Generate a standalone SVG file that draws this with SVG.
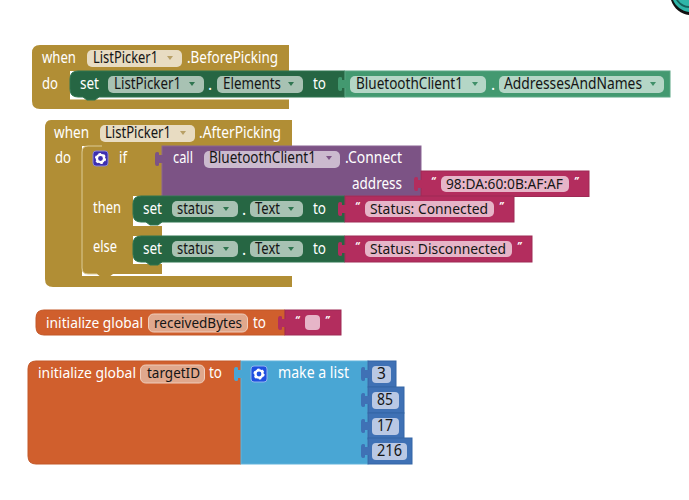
<svg xmlns="http://www.w3.org/2000/svg" width="689" height="500" viewBox="0 0 689 500">
<style>
text{font-family:"Noto Sans","Open Sans","Liberation Sans",sans-serif;font-size:15.5px;fill:#fff}
.f{fill:#151515}
.s{font-size:14px}
.q{font-size:10px;font-weight:700;font-style:italic}
.ev{fill:#b18e35}
.set{fill:#266643;stroke:#2f7550;stroke-width:1}
.get{fill:#439970;stroke:#5aa684;stroke-width:1}
.call{fill:#7c5385;stroke:#8a6493;stroke-width:1}
.str{fill:#b32d5e;stroke:#9e2a55;stroke-width:1}
.var{fill:#d05f2d;stroke:#c25829;stroke-width:1}
.lst{fill:#49a6d4;stroke:#62b3db;stroke-width:1}
.num{fill:#3f71b5;stroke:#3566a6;stroke-width:1}
.fe{fill:#e8dcc2}.fs{fill:#a8c2b3}.fg{fill:#b4d6c6}.fc{fill:#cbbace}.fp{fill:#e6b5c8}
.fo{fill:#e0a88d;stroke:#f0cdbb;stroke-width:1}.fn{fill:#b9c8e4}
.ae{fill:#b8a066}.as{fill:#2f7550}.ag{fill:#3f8f68}.ac{fill:#7c5385}
.edge{fill:none;stroke:#dccb96;stroke-width:1}
</style>
<defs>
<path id="tab" d="M1 3H-3V1Q-3 0-5 0Q-7 0-7 3V11Q-7 14-5 14Q-3 14-3 13V11H1Z"/>
<path id="dd" d="M-3-2H3L0 2Z"/>
<g id="gear">
<circle r="3.6" fill="none" stroke="#fff" stroke-width="2.4"/>
<circle r="4.8" fill="none" stroke="#fff" stroke-width="1.6" stroke-dasharray="2.5 2.5"/>
</g>
</defs>

<!-- corner of the speech mark at the top edge -->
<g id="corner-mark">
<path d="M671 0C674 9 681 14 689 15V0Z" fill="#111"/>
<path d="M673 0C676 7 682 11 689 12V0Z" fill="#2fb5a8"/>
<path d="M678 0C681 4 685 6 689 6V8C684 8 679 5 676 0Z" fill="#15625c"/>
</g>

<g id="before-picking">
<path class="ev" d="M38 45H289V71H70V99.500H289V109H40Q32 109 32 101V53Q32 45 40 45Z"/>
<rect class="fe" x="87" y="50" width="95" height="17" rx="5"/>
<text x="42" y="63" textLength="34" lengthAdjust="spacingAndGlyphs">when</text>
<text class="f" x="93" y="63" textLength="65" lengthAdjust="spacingAndGlyphs">ListPicker1</text>
<use href="#dd" x="170" y="58" class="ae"/>
<text x="187" y="63" textLength="91" lengthAdjust="spacingAndGlyphs">.BeforePicking</text>
<text x="42" y="89" textLength="16" lengthAdjust="spacingAndGlyphs">do</text>
</g>
<g id="set-elements">
<path class="set" d="M345 71H78Q70 71 70 79V89Q70 97 78 97H83L87 100H95L99 97H345Z"/>
<text x="80" y="89" textLength="19" lengthAdjust="spacingAndGlyphs">set</text>
<rect class="fs" x="108" y="76" width="96" height="17" rx="5"/>
<text class="f" x="114" y="89" textLength="67" lengthAdjust="spacingAndGlyphs">ListPicker1</text>
<use href="#dd" x="192" y="84" class="as"/>
<text x="208" y="90">.</text>
<rect class="fs" x="217" y="76" width="86" height="17" rx="5"/>
<text class="f" x="223" y="89" textLength="58" lengthAdjust="spacingAndGlyphs">Elements</text>
<use href="#dd" x="291" y="84" class="as"/>
<text x="313" y="89" textLength="13" lengthAdjust="spacingAndGlyphs">to</text>
</g>
<g id="client-addresses">
<rect class="get" x="345" y="71" width="325" height="26"/>
<rect class="fg" x="350" y="76" width="136" height="17" rx="5"/>
<text class="f" x="356" y="89" textLength="107" lengthAdjust="spacingAndGlyphs">BluetoothClient1</text>
<use href="#dd" x="475" y="84" class="ag"/>
<text x="491" y="90">.</text>
<rect class="fg" x="499" y="76" width="165" height="17" rx="5"/>
<text class="f" x="504" y="89" textLength="138" lengthAdjust="spacingAndGlyphs">AddressesAndNames</text>
<use href="#dd" x="653" y="84" class="ag"/>
</g>

<g id="after-picking">
<path class="ev" d="M51 120H292V146H82V276H292V287H53Q45 287 45 279V128Q45 120 51 120Z"/>
<rect class="fe" x="100" y="125" width="95" height="17" rx="5"/>
<text x="54" y="138" textLength="35" lengthAdjust="spacingAndGlyphs">when</text>
<text class="f" x="105" y="138" textLength="66" lengthAdjust="spacingAndGlyphs">ListPicker1</text>
<use href="#dd" x="183" y="133" class="ae"/>
<text x="199" y="138" textLength="82" lengthAdjust="spacingAndGlyphs">.AfterPicking</text>
<text x="55" y="163" textLength="16" lengthAdjust="spacingAndGlyphs">do</text>
</g>
<g id="if-then-else">
<path class="ev" d="M88 146H162V196H133V226H162V236H133V264H162V274H113L109 277H101L97 274H88Q82 274 82 268V152Q82 146 88 146Z"/>
<path class="edge" d="M97 274H88Q82 274 82 268V152Q82 146 88 146H102"/>
<rect x="93" y="151" width="15" height="15" rx="3" fill="#3d2fb0" stroke="#8c86d8"/>
<use href="#gear" x="100.500" y="158.500"/>
<text x="119" y="163" textLength="8" lengthAdjust="spacingAndGlyphs">if</text>
<text x="93" y="213" textLength="28" lengthAdjust="spacingAndGlyphs">then</text>
<text x="93" y="252" textLength="24" lengthAdjust="spacingAndGlyphs">else</text>
</g>
<g id="call-connect">
<rect class="call" x="162" y="146" width="259" height="50"/>
<text x="173" y="163" textLength="20" lengthAdjust="spacingAndGlyphs">call</text>
<rect class="fc" x="204" y="151" width="136" height="17" rx="5"/>
<text class="f" x="209" y="163" textLength="107" lengthAdjust="spacingAndGlyphs">BluetoothClient1</text>
<use href="#dd" x="329" y="158" class="ac"/>
<text x="345" y="163" textLength="57" lengthAdjust="spacingAndGlyphs">.Connect</text>
<text x="352" y="189" textLength="50" lengthAdjust="spacingAndGlyphs">address</text>
</g>
<g id="text-address">
<rect class="str" x="421" y="171" width="168" height="25.500"/>
<text class="q" x="431" y="185">“</text>
<rect class="fp" x="441" y="176" width="128" height="16" rx="5"/>
<text class="f s" x="446" y="189" textLength="117" lengthAdjust="spacingAndGlyphs">98:DA:60:0B:AF:AF</text>
<text class="q" x="574" y="185">”</text>
</g>
<g id="set-connected">
<path class="set" d="M345 196H141Q133 196 133 204V214Q133 222 141 222H146L150 225H158L162 222H345Z"/>
<text x="143" y="214" textLength="19" lengthAdjust="spacingAndGlyphs">set</text>
<rect class="fs" x="172" y="201" width="66" height="16" rx="5"/>
<text class="f" x="177" y="214" textLength="37" lengthAdjust="spacingAndGlyphs">status</text>
<use href="#dd" x="226" y="209" class="as"/>
<text x="242" y="215">.</text>
<rect class="fs" x="250" y="201" width="53" height="16" rx="5"/>
<text class="f" x="255" y="214" textLength="25" lengthAdjust="spacingAndGlyphs">Text</text>
<use href="#dd" x="291" y="209" class="as"/>
<text x="313" y="214" textLength="13" lengthAdjust="spacingAndGlyphs">to</text>
</g>
<g id="text-connected">
<rect class="str" x="345" y="196" width="169" height="26"/>
<text class="q" x="355" y="210">“</text>
<rect class="fp" x="365" y="201" width="129" height="16" rx="5"/>
<text class="f s" x="370" y="214" textLength="118" lengthAdjust="spacingAndGlyphs">Status: Connected</text>
<text class="q" x="499" y="210">”</text>
</g>
<g id="set-disconnected">
<path class="set" d="M345 236H141Q133 236 133 244V254Q133 262 141 262H146L150 265H158L162 262H345Z"/>
<text x="143" y="254" textLength="19" lengthAdjust="spacingAndGlyphs">set</text>
<rect class="fs" x="172" y="241" width="66" height="16" rx="5"/>
<text class="f" x="177" y="254" textLength="37" lengthAdjust="spacingAndGlyphs">status</text>
<use href="#dd" x="226" y="249" class="as"/>
<text x="242" y="255">.</text>
<rect class="fs" x="250" y="241" width="53" height="16" rx="5"/>
<text class="f" x="255" y="254" textLength="25" lengthAdjust="spacingAndGlyphs">Text</text>
<use href="#dd" x="291" y="249" class="as"/>
<text x="313" y="254" textLength="13" lengthAdjust="spacingAndGlyphs">to</text>
</g>
<g id="text-disconnected">
<rect class="str" x="345" y="236" width="187" height="26"/>
<text class="q" x="355" y="250">“</text>
<rect class="fp" x="365" y="241" width="147" height="16" rx="5"/>
<text class="f s" x="370" y="254" textLength="136" lengthAdjust="spacingAndGlyphs">Status: Disconnected</text>
<text class="q" x="517" y="250">”</text>
</g>

<g id="global-received">
<path class="var" d="M285 310H44Q36 310 36 318V327Q36 335 44 335H285Z"/>
<text class="s" x="46" y="328" textLength="97" lengthAdjust="spacingAndGlyphs">initialize global</text>
<rect class="fo" x="148.500" y="314" width="99" height="18" rx="5"/>
<text class="f s" x="154" y="328" textLength="88" lengthAdjust="spacingAndGlyphs">receivedBytes</text>
<text x="253" y="328" textLength="13" lengthAdjust="spacingAndGlyphs">to</text>
</g>
<g id="text-empty">
<rect class="str" x="285" y="310" width="56" height="25"/>
<text class="q" x="295" y="324">“</text>
<rect class="fp" x="305" y="315" width="15" height="15" rx="4"/>
<text class="q" x="325" y="324">”</text>
</g>

<g id="global-target">
<path class="var" d="M241 361H36Q28 361 28 369V456Q28 464 36 464H241Z"/>
<text class="s" x="38" y="378" textLength="98" lengthAdjust="spacingAndGlyphs">initialize global</text>
<rect class="fo" x="140.500" y="365" width="64" height="18" rx="5"/>
<text class="f s" x="147" y="378" textLength="53" lengthAdjust="spacingAndGlyphs">targetID</text>
<text x="209" y="378" textLength="13" lengthAdjust="spacingAndGlyphs">to</text>
</g>
<g id="make-list">
<rect class="lst" x="241" y="361" width="127" height="103"/>
<rect x="251" y="366" width="16" height="16" rx="3" fill="#1f4fe0" stroke="#8fb4ee"/>
<use href="#gear" x="259" y="374"/>
<text x="278" y="378" textLength="71" lengthAdjust="spacingAndGlyphs">make a list</text>
</g>
<g id="num-3">
<rect class="num" x="368" y="361" width="28" height="26"/>
<rect class="fn" x="372" y="366" width="19" height="17" rx="4"/>
<text class="f" x="377" y="379">3</text>
</g>
<g id="num-85">
<rect class="num" x="368" y="387" width="36" height="26"/>
<rect class="fn" x="372" y="392" width="27" height="17" rx="4"/>
<text class="f" x="377" y="405" textLength="16" lengthAdjust="spacingAndGlyphs">85</text>
</g>
<g id="num-17">
<rect class="num" x="368" y="413" width="36" height="26"/>
<rect class="fn" x="372" y="418" width="27" height="17" rx="4"/>
<text class="f" x="377" y="431" textLength="16" lengthAdjust="spacingAndGlyphs">17</text>
</g>
<g id="num-216">
<rect class="num" x="368" y="438" width="44" height="26"/>
<rect class="fn" x="372" y="443" width="35" height="17" rx="4"/>
<text class="f" x="377" y="456" textLength="25" lengthAdjust="spacingAndGlyphs">216</text>
</g>

<!-- puzzle tabs joining each value block to its socket -->
<g id="connectors">
<use href="#tab" x="345" y="77" fill="#439970"/>
<use href="#tab" x="162" y="152" fill="#7c5385"/>
<use href="#tab" x="421" y="177" fill="#b32d5e"/>
<use href="#tab" x="345" y="202" fill="#b32d5e"/>
<use href="#tab" x="345" y="242" fill="#b32d5e"/>
<use href="#tab" x="285" y="316" fill="#b32d5e"/>
<use href="#tab" x="241" y="367" fill="#49a6d4"/>
<use href="#tab" x="368" y="367" fill="#3f71b5"/>
<use href="#tab" x="368" y="393" fill="#3f71b5"/>
<use href="#tab" x="368" y="419" fill="#3f71b5"/>
<use href="#tab" x="368" y="444" fill="#3f71b5"/>
</g>
</svg>
